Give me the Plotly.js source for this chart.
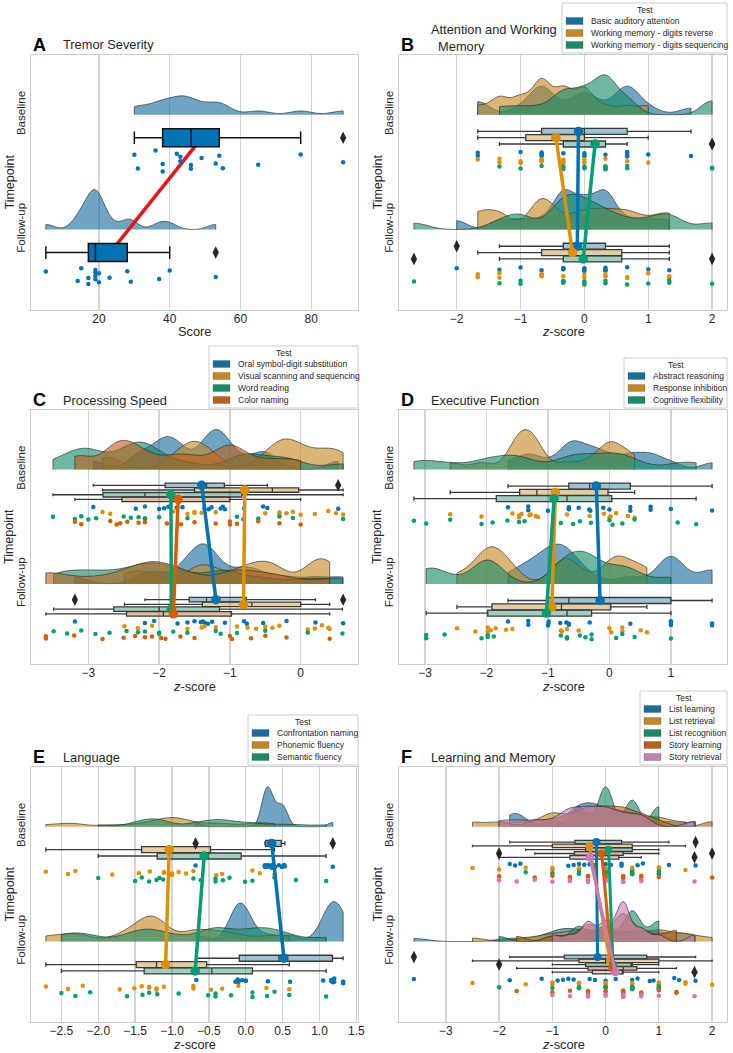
<!DOCTYPE html>
<html><head><meta charset="utf-8">
<script src="https://cdn.plot.ly/plotly-3.0.1.min.js"></script>
<style>body{margin:0;padding:0;background:#fff}#chart{width:733px;height:1053px}</style>
</head><body><div id="chart"></div>
<script>
const timepoints = ['Baseline', 'Follow-up'];

// A — Tremor Severity (score)
const tremorTests = ['Tremor severity'];
const tremorBaseline = [[30,31,36,38,38,42,43,43,46,46,49,53,54,55,65,77,89]];
const tremorFollowup = [[5,14,15,17,17,19,19,19,19,20,20,23,28,29,37,40,53]];

// B — Attention and Working Memory (z-score)
const attnTests = ['Basic auditory attention','Working memory - digits reverse','Working memory - digits sequencing'];
const attnBaseline = [
  [-1.67,-1.67,-1,-0.67,-0.67,-0.67,-0.67,-0.33,0,0,0,0.33,0.67,0.67,0.67,0.67,1,1.67],
  [-1.67,-1.33,-1.33,-1,-1,-0.67,-0.67,-0.67,-0.67,-0.33,-0.33,-0.33,0,0,0,0.33,0.67,1],
  [-1.33,-1,-0.67,-0.33,-0.33,-0.33,0,0,0,0.33,0.33,0.33,0.33,0.33,0.67,0.67,2,2]
];
const attnFollowup = [
  [-2,-1.33,-1,-0.67,-0.33,-0.33,-0.33,-0.33,0,0,0,0.33,0.33,0.33,0.33,0.67,1,1.33],
  [-1.67,-1.67,-1.33,-1.33,-0.67,-0.67,-0.67,-0.67,-0.33,0,0,0.33,0.33,0.67,0.67,1,1.33,1.33],
  [-2.67,-1.33,-1,-1,-0.33,-0.33,-0.33,-0.33,0,0,0,0.33,0.33,0.67,1,1.33,1.33,2]
];

// C — Processing Speed
const speedTests = ['Oral symbol-digit substitution','Visual scanning and sequencing','Word reading','Color naming'];
const speedBaseline = [
  [-2.93,-2.33,-2.2,-2.0,-1.93,-1.87,-1.75,-1.67,-1.36,-1.3,-1.26,-1.13,-1.1,-1.07,-0.8,-0.53,-0.47,0.53],
  [-2.8,-2.69,-1.8,-1.6,-1.5,-1.5,-1.4,-1.2,-0.5,-0.3,-0.3,-0.2,-0.11,0,0.2,0.39,0.5,0.6],
  [-3.5,-3.19,-3.1,-3.0,-2.89,-2.5,-2.4,-2.29,-2.2,-2.2,-2.0,-1.6,-0.9,-0.81,-0.6,-0.3,-0.11,0.6],
  [-3.19,-3.1,-2.69,-2.6,-2.55,-2.45,-2.29,-2.2,-1.89,-1.69,-1.5,-1.2,-1.0,-1.0,-0.9,-0.6,-0.3,0]
];
const speedFollowup = [
  [-3.19,-2.2,-2.07,-1.74,-1.6,-1.5,-1.41,-1.38,-1.35,-1.31,-1.25,-1.07,-0.8,-0.76,-0.53,-0.2,0.21,0.6],
  [-2.49,-2.3,-2.1,-1.6,-1.4,-1.36,-1.2,-0.9,-0.75,-0.63,-0.5,-0.4,-0.3,0.1,0.2,0.3,0.39,0.41],
  [-3.49,-3.3,-3.1,-2.9,-2.7,-2.46,-2.3,-2.2,-2.0,-2.0,-1.8,-1.6,-1.2,-1.13,-0.9,-0.5,0.1,0.59],
  [-3.6,-3.6,-3.2,-2.8,-2.5,-2.34,-2.2,-2.1,-1.97,-1.91,-1.7,-1.5,-1.0,-0.97,-0.7,-0.5,-0.2,0.41]
];

// D — Executive Function
const execTests = ['Abstract reasoning','Response inhibition','Cognitive flexibility'];
const execBaseline = [
  [-1.65,-1.32,-1.32,-1.0,-0.66,-0.66,-0.66,-0.5,-0.33,-0.31,-0.1,0,0.34,0.34,0.67,0.67,1.0,1.67],
  [-2.59,-2.08,-1.58,-1.47,-1.47,-1.43,-1.3,-1.28,-1.2,-1.16,-0.69,-0.32,-0.09,0,0.02,0.11,0.3,0.41],
  [-3.18,-2.98,-2.59,-2.08,-1.9,-1.66,-1.47,-1.38,-0.79,-0.59,-0.48,-0.3,0,0.05,0.21,0.41,1.11,1.41]
];
const execFollowup = [
  [-1.65,-1.32,-1.32,-1.0,-0.99,-0.99,-0.8,-0.7,-0.66,-0.66,-0.32,0.34,1.0,1.0,1.0,1.0,1.67,1.67],
  [-2.48,-2.18,-1.98,-1.98,-1.93,-1.85,-1.68,-1.58,-0.79,-0.77,-0.69,-0.5,0,0.03,0.21,0.21,0.51,0.61],
  [-2.98,-2.98,-2.68,-2.08,-1.98,-1.98,-1.88,-0.79,-0.69,-0.69,-0.48,-0.39,-0.29,-0.29,0.11,0.21,0.41,1.0]
];

// E — Language
const langTests = ['Confrontation naming','Phonemic fluency','Semantic fluency'];
const langBaseline = [
  [-0.68,0.26,0.26,0.26,0.26,0.3,0.3,0.3,0.3,0.35,0.35,0.4,0.45,0.49,0.5,0.52,0.53,1.18],
  [-2.71,-2.41,-2.31,-1.81,-1.45,-1.3,-1.11,-1.11,-1.0,-1.0,-0.91,-0.81,-0.71,-0.4,-0.32,0.09,0.19,0.39],
  [-2.0,-1.5,-1.41,-1.31,-1.21,-1.17,-1.12,-0.71,-0.61,-0.41,-0.41,-0.31,-0.22,-0.01,0.09,0.39,0.68,1.09]
];
const langFollowup = [
  [-0.67,-0.14,-0.11,-0.1,-0.1,-0.05,0,0,0.3,0.6,1.05,1.16,1.16,1.18,1.2,1.2,1.32,1.32],
  [-2.71,-2.41,-2.21,-1.71,-1.51,-1.41,-1.31,-1.31,-1.21,-1.21,-1.11,-0.71,-0.71,-0.47,-0.32,-0.1,0.28,0.59],
  [-2.5,-2.31,-2.11,-1.61,-1.4,-1.31,-1.2,-0.91,-0.51,-0.41,-0.41,-0.2,0.09,0.09,0.29,0.39,0.59,1.09]
];

// F — Learning and Memory
const memTests = ['List learning','List retrieval','List recognition','Story learning','Story retrieval'];
const memBaseline = [
  [-1.8,-1.7,-1.6,-0.7,-0.6,-0.5,-0.4,-0.3,-0.2,-0.2,0,0.1,0.3,0.3,0.6,0.7,1.19,1.69],
  [-2.5,-2,-1.5,-1,-1,-1,-0.5,-0.5,-0.5,0,0,0,0.5,0.5,0.5,1,1,1.5],
  [-1.5,-1,-0.5,-0.5,-0.5,0,0,0,0,0,0,0.5,0.5,0.5,0.5,1,1,1],
  [-2,-1.33,-1,-0.67,-0.67,-0.33,-0.33,-0.33,0,0,0,0.33,0.33,0.33,0.67,0.67,1,2],
  [-2,-1.67,-1.33,-1,-0.67,-0.67,-0.67,-0.33,-0.33,-0.33,0,0,0,0.33,0.33,0.67,0.67,1.67]
];
const memFollowup = [
  [-3.6,-1.8,-1.2,-0.9,-0.8,-0.7,-0.6,-0.3,-0.2,0,0.19,0.5,0.6,0.83,0.9,1.29,1.38,1.69],
  [-2.5,-1.5,-1,-1,-0.5,-0.5,-0.5,0,0,0,0.5,0.5,1,1,1,1.5,1.5,2],
  [-2,-1,-0.5,-0.5,-0.5,0,0,0,0.5,0.5,0.5,0.5,0.5,0.5,1,1,1,1],
  [-1.67,-1,-0.67,-0.33,-0.33,-0.33,0,0,0.33,0.33,0.33,0.33,0.33,0.67,0.67,1,1.33,1.33],
  [-1,-0.67,-0.33,-0.33,-0.33,0,0,0,0.33,0.33,0.33,0.33,0.33,0.33,0.67,0.67,1,1.67]
];

// ---------- styling / layout ----------
const pal   = ['#0173b2','#de8f05','#029e73','#d55e00','#cc78bc'];
const desat = ['#176d9c','#c38820','#168b6a','#ba611b','#c182b5'];
const W = 733, H = 1053;
const px = v => v / W;
const py = v => 1 - v / H;
const cols = [[31,358],[399,727]];
const rows = [[55,310],[410,664],[767,1022]];
const YR = [-0.70, 1.52];
const TICK = [1, 0];
const CLOUD_H = 0.348;   // tallest cloud height in y units

const panels = [
  {letter:'A', title:'Tremor Severity', tests:tremorTests, base:tremorBaseline, follow:tremorFollowup, xtitle:'Score', dtick:20, fmt:'', col:0, row:0, legend:null},
  {letter:'B', title:'Attention and Working<br>\u00a0\u00a0Memory', tests:attnTests, base:attnBaseline, follow:attnFollowup, xtitle:'<i>z</i>-score', dtick:1, fmt:'', col:1, row:0, legend:562},
  {letter:'C', title:'Processing Speed', tests:speedTests, base:speedBaseline, follow:speedFollowup, xtitle:'<i>z</i>-score', dtick:1, fmt:'', col:0, row:1, legend:209},
  {letter:'D', title:'Executive Function', tests:execTests, base:execBaseline, follow:execFollowup, xtitle:'<i>z</i>-score', dtick:1, fmt:'', col:1, row:1, legend:624},
  {letter:'E', title:'Language', tests:langTests, base:langBaseline, follow:langFollowup, xtitle:'<i>z</i>-score', dtick:0.5, fmt:'.1f', col:0, row:2, legend:248},
  {letter:'F', title:'Learning and Memory', tests:memTests, base:memBaseline, follow:memFollowup, xtitle:'<i>z</i>-score', dtick:1, fmt:'', col:1, row:2, legend:640}
];

function mean(a){return a.reduce((s,v)=>s+v,0)/a.length;}
function sd(a){const m=mean(a);return Math.sqrt(a.reduce((s,v)=>s+(v-m)*(v-m),0)/(a.length-1));}
function rgba(hex,a){const n=parseInt(hex.slice(1),16);return 'rgba('+((n>>16)&255)+','+((n>>8)&255)+','+(n&255)+','+a+')';}
function pct(s,p){const idx=p*(s.length-1), lo=Math.floor(idx), hi=Math.ceil(idx);return s[lo]+(s[hi]-s[lo])*(idx-lo);}
function boxStats(vals){
  const s=[...vals].sort((a,b)=>a-b);
  const q1=pct(s,.25), med=pct(s,.5), q3=pct(s,.75), iqr=q3-q1, tol=0.012;
  const loLim=q1-1.5*iqr-tol, hiLim=q3+1.5*iqr+tol;
  const inside=s.filter(v=>v>=loLim&&v<=hiLim);
  return {q1:q1, med:med, q3:q3, lf:inside[0], uf:inside[inside.length-1], out:s.filter(v=>v<loLim||v>hiLim)};
}
function kdeMax(vals){
  const bw=0.2*sd(vals), n=vals.length, lo=Math.min(...vals), hi=Math.max(...vals);
  let m=0;
  for(let k=0;k<=500;k++){
    const x=lo+(hi-lo)*k/500; let f=0;
    for(const v of vals){const z=(x-v)/bw; f+=Math.exp(-0.5*z*z);}
    f/=n*bw*Math.sqrt(2*Math.PI); if(f>m) m=f;
  }
  return m;
}

const FONT = 'Liberation Sans, Arial, Helvetica, sans-serif';
const traces = [];
const layout = {
  width:W, height:H, margin:{l:0,r:0,t:0,b:0},
  paper_bgcolor:'#ffffff', plot_bgcolor:'#ffffff',
  showlegend:false, violinmode:'overlay', boxmode:'overlay',
  font:{family:FONT, color:'#262626'},
  annotations:[], shapes:[]
};

panels.forEach((P,p)=>{
  const sfx = p===0 ? '' : String(p+1);
  const xa = 'x'+sfx, ya = 'y'+sfx;
  const boxYa = p===0 ? 'y7' : ya;
  const n = P.tests.length;
  const groups = [P.base, P.follow];
  const all = [].concat(...P.base, ...P.follow);
  const lo = Math.min(...all), hi = Math.max(...all), pad = (hi-lo)*0.05;
  const [c0,c1] = cols[P.col], [r0,r1] = rows[P.row];

  layout['xaxis'+sfx] = {
    anchor: ya, domain:[px(c0), px(c1)], range:[lo-pad, hi+pad],
    tick0:0, dtick:P.dtick, tickformat:P.fmt, ticks:'', ticklabelstandoff:-3,
    showgrid:true, gridcolor:'#d4d4d4', gridwidth:1.3, zeroline:false,
    showline:true, mirror:true, linecolor:'#cccccc', linewidth:1.3,
    tickfont:{size:12, color:'#262626', family:FONT}
  };
  layout['yaxis'+sfx] = {
    anchor: xa, domain:[py(r1), py(r0)], range:YR,
    tickmode:'array', tickvals:TICK, ticktext:timepoints, tickangle:-90, ticks:'',
    showgrid:false, zeroline:false, showline:true, mirror:true, linecolor:'#cccccc', linewidth:1.3,
    tickfont:{size:11.5, color:'#262626', family:FONT}
  };
  if(p===0){
    layout.yaxis7 = {overlaying:'y', anchor:'x', range:YR, visible:false, showgrid:false, zeroline:false};
  }

  // clouds (half violins): area scaling — across timepoints without hue, within each timepoint with hue
  const kmax = groups.map(g=>g.map(kdeMax));
  const globalMax = Math.max(...[].concat(...kmax));
  groups.forEach((g,t)=>g.forEach((vals,i)=>{
    const M = n===1 ? globalMax : Math.max(...kmax[t]);
    traces.push({
      type:'violin', orientation:'h', x:vals, y0:TICK[t], xaxis:xa, yaxis:ya,
      name:P.tests[i], side:'positive', width:2*CLOUD_H*kmax[t][i]/M,
      scalegroup:'v'+p+'_'+t+'_'+i, scalemode:'width',
      spanmode:'hard', bandwidth:0.2*sd(vals), points:false,
      box:{visible:false}, meanline:{visible:false},
      fillcolor:rgba(desat[i],0.62), line:{color:'rgba(45,45,45,0.65)', width:1},
      hoverinfo:'skip'
    });
  }));

  const boxStep = 0.165/n, stripStep = 0.175/n;
  const boxY = (t,i) => TICK[t] - 0.2 + ((n-1)/2 - i)*boxStep;
  const stripY = (t,i) => TICK[t] - 0.4 + ((n-1)/2 - i)*stripStep;

  // mean-connecting line for A sits under the box
  if(p===0){
    traces.push({
      type:'scatter', mode:'lines', xaxis:xa, yaxis:ya,
      x:[mean(P.base[0]), mean(P.follow[0])], y:[boxY(0,0), boxY(1,0)],
      line:{color:'#e8141c', width:3.5}, hoverinfo:'skip'
    });
  }

  // boxes (numpy-style quartiles, 1.5 IQR whiskers)
  const outX = [], outY = [];
  groups.forEach((g,t)=>g.forEach((vals,i)=>{
    const st = boxStats(vals);
    traces.push({
      type:'box', orientation:'h', y:[boxY(t,i)], xaxis:xa, yaxis:boxYa,
      q1:[st.q1], median:[st.med], q3:[st.q3], lowerfence:[st.lf], upperfence:[st.uf],
      name:P.tests[i], width: n===1 ? 0.157 : boxStep*0.95, whiskerwidth:0.7,
      fillcolor: n===1 ? pal[0] : rgba(desat[i],0.42),
      line:{color: n===1 ? '#111111' : '#3a3a3a', width: n===1 ? 1.5 : 1.3},
      boxpoints:false, hoverinfo:'x'
    });
    st.out.forEach(v=>{outX.push(v); outY.push(boxY(t,i));});
  }));
  traces.push({type:'scatter', mode:'markers', x:outX, y:outY, xaxis:xa, yaxis:boxYa,
    marker:{symbol:'diamond-tall', size:9, color:'#262626'}, hoverinfo:'x'});

  // strip (rain)
  groups.forEach((g,t)=>g.forEach((vals,i)=>{
    traces.push({
      type:'box', orientation:'h', x:vals, y0:stripY(t,i), xaxis:xa, yaxis:boxYa,
      name:P.tests[i], width: n===1 ? 0.24 : stripStep*0.9,
      boxpoints:'all', jitter:1, pointpos:0,
      fillcolor:'rgba(0,0,0,0)', line:{color:'rgba(0,0,0,0)', width:0}, whiskerwidth:0,
      marker:{color:pal[i], size:4.5},
      hoveron:'points', hoverinfo:'x'
    });
  }));

  // mean-connecting lines with dots for hue panels
  if(p>0){
    P.tests.forEach((name,i)=>{
      traces.push({
        type:'scatter', mode:'lines+markers', xaxis:xa, yaxis:ya, name:name,
        x:[mean(P.base[i]), mean(P.follow[i])], y:[boxY(0,i), boxY(1,i)],
        line:{color:pal[i], width: n>=5 ? 3 : 3.5}, marker:{color:pal[i], size: n>=5 ? 8 : 9.5},
        hoverinfo:'x'
      });
    });
  }

  // panel letter + title
  layout.annotations.push({xref:'paper', yref:'paper', x:px(c0), y:py(r0-10), xanchor:'left', yanchor:'middle',
    text:'<b>'+P.letter+'</b>', showarrow:false, font:{size:18, family:FONT, color:'#000'}});
  layout.annotations.push({xref:'paper', yref:'paper', x:px(c0+30), y:py(P.row===0 && P.col===1 ? r0-17 : r0-10), xanchor:'left', yanchor:'middle', align:'left',
    text:P.title, showarrow:false, font:{size:12.8, family:FONT, color:'#262626'}});
  // axis titles
  layout.annotations.push({xref:'paper', yref:'paper', x:px((c0+c1)/2), y:py(r1+22), xanchor:'center', yanchor:'middle',
    text:P.xtitle, showarrow:false, font:{size:12.8, family:FONT, color:'#262626'}});
  layout.annotations.push({xref:'paper', yref:'paper', x:px(c0-22), y:py((r0+r1)/2), xanchor:'center', yanchor:'middle',
    text:'Timepoint', textangle:-90, showarrow:false, font:{size:12.5, family:FONT, color:'#262626'}});

  // legend (manual)
  if(P.legend !== null){
    const left = P.legend, right = c1, bottom = r0 - 2;
    const rowsY = P.tests.map((_,i)=> bottom - 8 - (n-1-i)*12);
    const titleY = rowsY[0] - 11, top = titleY - 7;
    layout.shapes.push({type:'rect', xref:'paper', yref:'paper', x0:px(left), x1:px(right), y0:py(bottom), y1:py(top),
      line:{color:'#cccccc', width:1}, fillcolor:'#ffffff', layer:'above'});
    layout.annotations.push({xref:'paper', yref:'paper', x:px((left+right)/2), y:py(titleY), xanchor:'center', yanchor:'middle',
      text:'Test', showarrow:false, font:{size:8.5, family:FONT, color:'#262626'}});
    P.tests.forEach((name,i)=>{
      layout.shapes.push({type:'rect', xref:'paper', yref:'paper', x0:px(left+4), x1:px(left+21), y0:py(rowsY[i]+3.5), y1:py(rowsY[i]-3.5),
        line:{color:'rgba(60,60,60,0.4)', width:0.6}, fillcolor:desat[i], layer:'above'});
      layout.annotations.push({xref:'paper', yref:'paper', x:px(left+27), y:py(rowsY[i]), xanchor:'left', yanchor:'middle',
        text:name, showarrow:false, font:{size:8.5, family:FONT, color:'#262626'}});
    });
  }
});

Plotly.newPlot('chart', traces, layout, {staticPlot:true, displayModeBar:false});
</script>
</body></html>
